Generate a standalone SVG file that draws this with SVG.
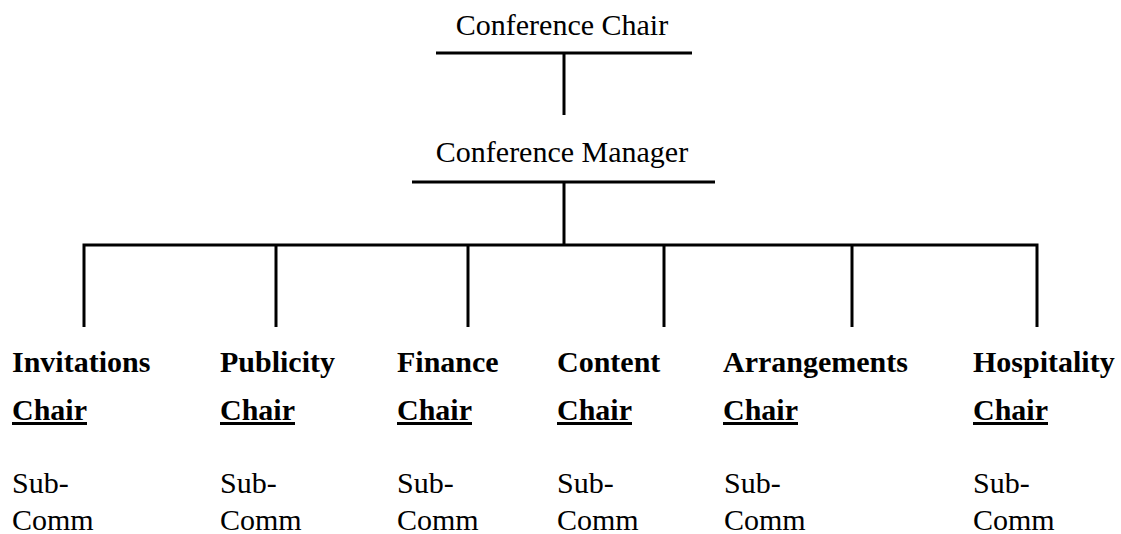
<svg xmlns="http://www.w3.org/2000/svg" width="1121" height="534" viewBox="0 0 1121 534">
<style>
.b{font-weight:bold}
.u{text-decoration:underline}
.c{stroke:#000;stroke-width:3;fill:none}
</style>
<rect width="1121" height="534" fill="#fff"/>
<g id="connectors">
<line class="c" x1="436" y1="53" x2="692" y2="53"/>
<line class="c" x1="564" y1="53" x2="564" y2="115"/>
<line class="c" x1="412" y1="182" x2="715" y2="182"/>
<line class="c" x1="564" y1="182" x2="564" y2="245"/>
<polyline class="c" points="84,327 84,245 1037,245 1037,327"/>
<line class="c" x1="276" y1="245" x2="276" y2="327"/>
<line class="c" x1="468" y1="245" x2="468" y2="327"/>
<line class="c" x1="664" y1="245" x2="664" y2="327"/>
<line class="c" x1="852" y1="245" x2="852" y2="327"/>
</g>
<g font-family="Liberation Serif" font-size="30" fill="#000">
<g id="conference-chair"><text x="562" y="35" text-anchor="middle">Conference Chair</text></g>
<g id="conference-manager"><text x="562" y="162" text-anchor="middle">Conference Manager</text></g>
<g id="invitations">
<text class="b" x="12" y="372">Invitations</text>
<text class="b u" x="12" y="420">Chair</text>
<text x="12" y="493">Sub-</text>
<text x="12" y="530">Comm</text>
</g>
<g id="publicity">
<text class="b" x="220" y="372">Publicity</text>
<text class="b u" x="220" y="420">Chair</text>
<text x="220" y="493">Sub-</text>
<text x="220" y="530">Comm</text>
</g>
<g id="finance">
<text class="b" x="397" y="372">Finance</text>
<text class="b u" x="397" y="420">Chair</text>
<text x="397" y="493">Sub-</text>
<text x="397" y="530">Comm</text>
</g>
<g id="content">
<text class="b" x="557" y="372">Content</text>
<text class="b u" x="557" y="420">Chair</text>
<text x="557" y="493">Sub-</text>
<text x="557" y="530">Comm</text>
</g>
<g id="arrangements">
<text class="b" x="723" y="372">Arrangements</text>
<text class="b u" x="723" y="420">Chair</text>
<text x="724" y="493">Sub-</text>
<text x="724" y="530">Comm</text>
</g>
<g id="hospitality">
<text class="b" x="973" y="372">Hospitality</text>
<text class="b u" x="973" y="420">Chair</text>
<text x="973" y="493">Sub-</text>
<text x="973" y="530">Comm</text>
</g>
</g>
</svg>
